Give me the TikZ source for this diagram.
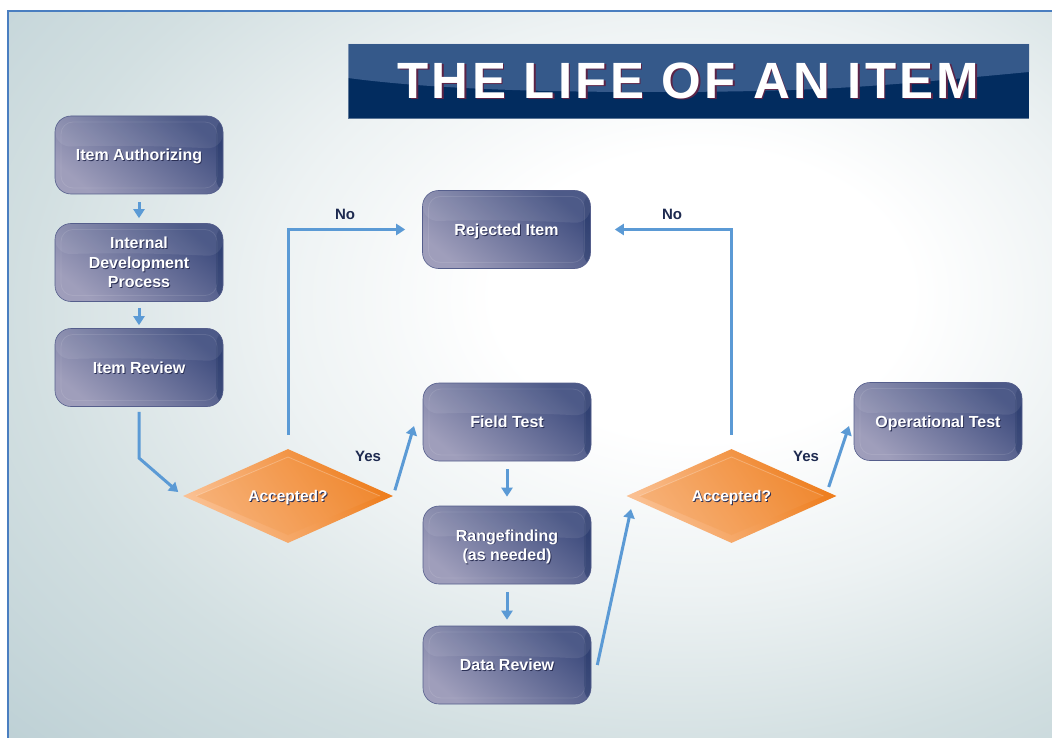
\documentclass[tikz,border=0pt]{standalone}
\usepackage{fontspec}
\setmainfont{Liberation Sans}
\usetikzlibrary{arrows.meta,shapes.geometric}
\definecolor{bgc}{HTML}{BDD0D5}
\definecolor{bgA}{HTML}{EDF2F3}
\definecolor{bgB}{HTML}{D2DFE1}
\definecolor{bordc}{HTML}{4A7EC0}
\definecolor{boxdark}{HTML}{3E4C7E}
\definecolor{boxlight}{HTML}{9F9EBB}
\definecolor{boxrim}{HTML}{555E8C}
\definecolor{boxedge}{HTML}{223566}
\definecolor{orD}{HTML}{EE7E1E}
\definecolor{orL}{HTML}{FAC092}
\definecolor{orM}{HTML}{F39A4E}
\definecolor{arrowc}{HTML}{5B9AD5}
\definecolor{labc}{HTML}{1E2A50}
\definecolor{txtshadow}{HTML}{2A2F55}
\definecolor{navy}{HTML}{022C5F}
\definecolor{navyL}{HTML}{35598A}
\definecolor{titshadow}{HTML}{5C2346}
\pgfdeclareradialshading{bgshade}{\pgfpoint{9bp}{6bp}}{color(0bp)=(white); color(10bp)=(white); color(20bp)=(bgA); color(31bp)=(bgB); color(43bp)=(bgc); color(120bp)=(bgc)}
\newcommand\shd[1]{\leavevmode\rlap{\kern0.9pt\raisebox{-0.9pt}{\textcolor{txtshadow}{#1}}}#1}
\newcommand\titshd[1]{\leavevmode\rlap{\kern1.5pt\raisebox{-1.5pt}{\textcolor{titshadow}{#1}}}#1}
\tikzset{
  proc/.style={rounded corners=16pt, minimum width=168pt, minimum height=78pt,
    inner sep=0pt, align=center, text=white, text depth=0pt,
    font=\bfseries\fontsize{16}{19.5}\selectfont,
    top color=boxdark, bottom color=boxlight, shading angle=-40,
    draw=boxrim, line width=0.6pt,
    path picture={
      \fill[boxedge, opacity=0.45] ([xshift=-7pt]path picture bounding box.north east) rectangle (path picture bounding box.south east);
      \fill[white, opacity=0.08] (path picture bounding box.north west) -- (path picture bounding box.north east) -- ([yshift=-33pt]path picture bounding box.north east) .. controls +(-60pt,3pt) and +(60pt,2pt) .. ([yshift=-31pt]path picture bounding box.north west) -- cycle;
      \draw[white, opacity=0.1, line width=0.8pt, rounded corners=12pt] ([shift={(6pt,-6pt)}]path picture bounding box.north west) rectangle ([shift={(-6pt,6pt)}]path picture bounding box.south east);
    }},
  dia/.style={diamond, aspect=2.2, minimum width=210pt, minimum height=94pt,
    inner sep=0pt, text=white, text depth=0pt, font=\bfseries\fontsize{15.5}{18}\selectfont,
    top color=orD, bottom color=orL, shading angle=-55,
    path picture={
      \fill[orM, opacity=0.35] ([xshift=-92pt]path picture bounding box.center) -- ([yshift=39pt]path picture bounding box.center) -- ([xshift=92pt]path picture bounding box.center) -- ([yshift=-39pt]path picture bounding box.center) -- cycle;
      \draw[white, opacity=0.25, line width=0.8pt] ([xshift=-92pt]path picture bounding box.center) -- ([yshift=39pt]path picture bounding box.center) -- ([xshift=92pt]path picture bounding box.center);
    }},
  arr/.style={draw=arrowc, line width=3pt, -{Triangle[width=11pt,length=9pt]}},
  lab/.style={text=labc, font=\bfseries\fontsize{15}{18}\selectfont, inner sep=0pt},
  banner/.style={fill=navy, minimum width=681pt, minimum height=75pt, inner sep=0pt,
    text=white, font=\bfseries\fontsize{51}{51}\selectfont\addfontfeatures{LetterSpace=6.5},
    path picture={
      \fill[navyL] (path picture bounding box.north west) -- (path picture bounding box.north east) -- ([yshift=-28pt]path picture bounding box.north east) .. controls +(-150pt,-14pt) and +(180pt,0pt) .. ([yshift=-48pt,xshift=300pt]path picture bounding box.north west) .. controls +(-150pt,0pt) and +(60pt,-8pt) .. ([yshift=-34pt]path picture bounding box.north west) -- cycle;
      \draw[white, opacity=0.35, line width=1pt] (path picture bounding box.north west) rectangle (path picture bounding box.south east);
    }}
}
\begin{document}
\begin{tikzpicture}[x=1pt, y=-1pt]
\useasboundingbox (0,0) rectangle (1052,738);
\fill[white] (0,0) rectangle (1052,738);
\shade[shading=bgshade] (8,11) rectangle (1052,738);
\draw[bordc, line width=2pt] (8,738) -- (8,11) -- (1052,11);

\node[banner] (title) at (688.5,81.5) {\titshd{THE LIFE OF AN ITEM}};

\node[proc] (auth)  at (139,155)   {\shd{Item Authorizing}};
\node[proc] (idp)   at (139,262.5) {\shd{Internal}\\\shd{Development}\\\shd{Process}};
\node[proc] (rev)   at (139,367.5) {\shd{Item Review}};
\node[proc] (rej)   at (506.5,229.5) {\shd{Rejected Item}};
\node[proc] (field) at (507,422)   {\shd{Field Test}};
\node[proc] (range) at (507,545)   {\shd{Rangefinding}\\\shd{(as needed)}};
\node[proc] (data)  at (507,665)   {\shd{Data Review}};
\node[proc] (op)    at (938,421.5) {\shd{Operational Test}};
\node[dia] (acc1) at (288,496)   {\shd{Accepted?}};
\node[dia] (acc2) at (731.5,496) {\shd{Accepted?}};

\node[lab] (no1)  at (345,214) {No};
\node[lab] (no2)  at (672,214) {No};
\node[lab] (yes1) at (368,456) {Yes};
\node[lab] (yes2) at (806,456) {Yes};

\coordinate (k1) at (139,458);
\coordinate (y1) at (414,426);
\coordinate (y2) at (849,426);
\coordinate (d1) at (631,509);

\draw[arr, shorten <=8pt, shorten >=5pt] (auth) -- (idp);
\draw[arr, shorten <=6pt, shorten >=3pt] (idp) -- (rev);
\draw[arr, shorten <=8pt, shorten >=9pt] (field) -- (range);
\draw[arr, shorten <=8pt, shorten >=6pt] (range) -- (data);
\draw[arr, shorten <=5pt, shorten >=6pt] (rev.south) -- (k1) -- (acc1.west);
\draw[arr, shorten <=14pt, shorten >=17pt] (acc1.north) |- (rej.west);
\draw[arr, shorten <=14pt, shorten >=24pt] (acc2.north) |- (rej.east);
\draw[arr, shorten <=6pt] (acc1.east) -- (y1);
\draw[arr] ([shift={(-8pt,9pt)}]acc2.east) -- (y2);
\draw[arr] ([xshift=6pt]data.east) -- (d1);
\end{tikzpicture}
\end{document}
